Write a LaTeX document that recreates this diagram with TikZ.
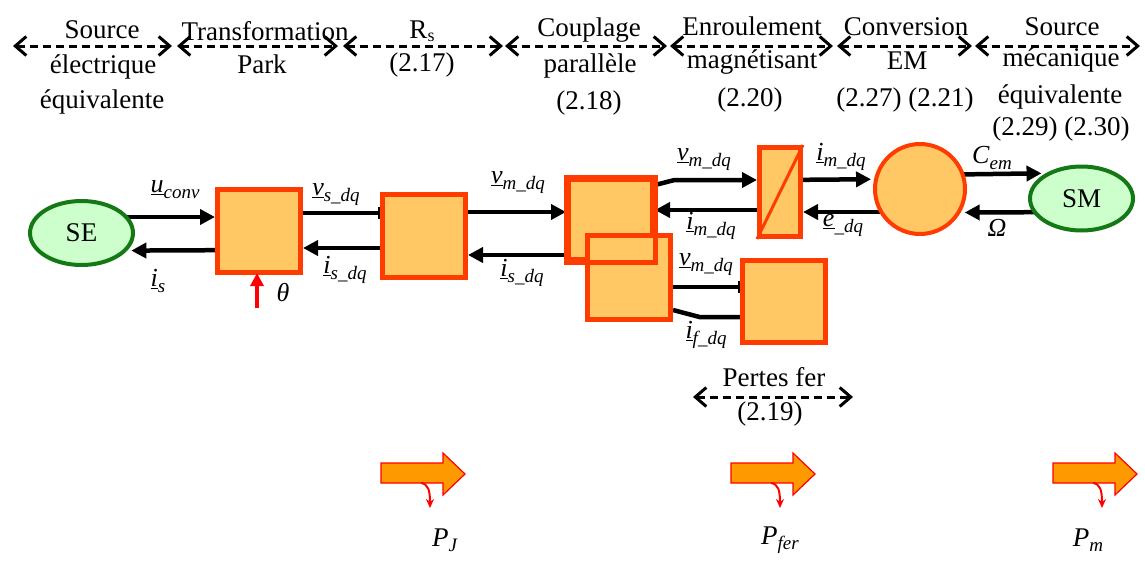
\documentclass[tikz,border=0pt]{standalone}
\usepackage{fontspec}
\setmainfont{Liberation Serif}
\usetikzlibrary{arrows.meta,calc,backgrounds,shapes.geometric}
\definecolor{blk}{RGB}{255,200,100}
\definecolor{brd}{RGB}{255,60,0}
\definecolor{grn}{RGB}{20,120,20}
\definecolor{lgrn}{RGB}{204,255,204}
\definecolor{pow}{RGB}{255,153,0}
\newcommand\sgl[2]{\underline{\textit{#1}}\raisebox{-6pt}{\fontsize{19}{19}\selectfont\textit{#2}}}
\newcommand\powarrow[3]{%
  \begin{scope}[shift={(#1,#2)}]
    \draw[parr] (0,0) -- (62,0) -- (62,-10) -- (84,11) -- (62,32) -- (62,20) -- (0,20) -- cycle;
    \draw[red, line width=2pt, -{Stealth[length=9pt,width=8pt]}] (40,20) .. controls (47,21) and (49,27) .. (49,45);
  \end{scope}}
\begin{document}
\begin{tikzpicture}[x=1pt,y=-1pt,
  block/.style={draw=brd, fill=blk, line width=5pt, minimum width=83pt, minimum height=83pt, inner sep=0pt},
  src/.style={ellipse, draw=grn, fill=lgrn, line width=4pt, minimum width=103pt, minimum height=64pt, inner sep=0pt, font=\fontsize{27}{27}\selectfont},
  sig/.style={line width=4.5pt, -{Triangle[length=15pt,width=15pt]}},
  sigbar/.style={line width=4.5pt, -{Bar[width=12pt,line width=2.5pt]}},
  plain/.style={line width=4.5pt},
  span/.style={line width=3pt, dash pattern=on 8pt off 5pt,
     {Straight Barb[length=11pt,width=19pt,line width=3pt]}-{Straight Barb[length=11pt,width=19pt,line width=3pt]}},
  toptxt/.style={anchor=base, inner sep=0pt, font=\fontsize{27}{27}\selectfont},
  lab/.style={inner sep=0pt, font=\fontsize{26}{26}\selectfont},
  parr/.style={draw=red, fill=pow, line width=1.2pt, line join=miter},
]
\useasboundingbox (0,0) rectangle (1145,573);

% ---- top spans ----
\draw[span] (13,46) -- (172,46);
\draw[span] (177,46) -- (338,46);
\draw[span] (343,46) -- (503,46);
\draw[span] (505,46) -- (667,46);
\draw[span] (670,46) -- (833,46);
\draw[span] (837,46) -- (972,46);
\draw[span] (975,46) -- (1140,46);
\draw[span] (693,397) -- (853,397);

\node[toptxt] (t1a) at (102,38) {Source};
\node[toptxt] (t1b) at (103,73) {électrique};
\node[toptxt] (t1c) at (102,108) {équivalente};
\node[toptxt] (t2a) at (265,40) {Transformation};
\node[toptxt] (t2b) at (262,73) {Park};
\node[toptxt] (t3a) at (422,38) {R\raisebox{-3pt}{\fontsize{18}{18}\selectfont s}};
\node[toptxt] (t3b) at (422,71) {(2.17)};
\node[toptxt] (t4a) at (589,36) {Couplage};
\node[toptxt] (t4b) at (590,72) {parallèle};
\node[toptxt] (t4c) at (589,109) {(2.18)};
\node[toptxt] (t5a) at (752,35) {Enroulement};
\node[toptxt] (t5b) at (752,68) {magnétisant};
\node[toptxt] (t5c) at (750,106) {(2.20)};
\node[toptxt] (t6a) at (906,35) {Conversion};
\node[toptxt] (t6b) at (907,69) {EM};
\node[toptxt] (t6c) at (905,106) {(2.27) (2.21)};
\node[toptxt] (t7a) at (1062,35) {Source};
\node[toptxt] (t7b) at (1061,66) {mécanique};
\node[toptxt] (t7c) at (1060,103) {équivalente};
\node[toptxt] (t7d) at (1061,135) {(2.29) (2.30)};
\node[toptxt] (pfa) at (774,386) {Pertes fer};
\node[toptxt] (pfb) at (770,420) {(2.19)};

% ---- blocks ----
\node[src] (se) at (81.5,233) {SE};
\node[block] (b1) at (259,231) {};
\node[block] (b2) at (424,235.5) {};
\node[block, minimum width=84pt, minimum height=80pt] (b3) at (610.5,219.5) {};
\node[block, minimum height=84pt] (b4) at (629,277.5) {};
\draw[brd, line width=5pt] (b3.south west) rectangle (b3.north east);
\node[block, minimum width=41pt, minimum height=89pt] (b5) at (780,192) {};
\draw[brd, line width=3pt] (b5.south west) -- (b5.north east);
\node[block, minimum height=82pt] (b6) at (784,301.5) {};
\node[circle, draw=brd, fill=blk, line width=4pt, minimum size=90pt, inner sep=0pt] (circ) at (920,189) {};
\node[src] (sm) at (1081.5,198.5) {SM};

% ---- connectors ----
\begin{scope}[on background layer]
\draw[sig] ($(se)+(0,-16)$) -- ($(b1.west)+(0,-14)$);
\draw[sig] ($(b1)+(0,19)$) -- ($(se.-21)+(4,0)$);
\draw[sigbar] ($(b1)+(0,-18)$) -- ($(b2.west)+(0,-22.5)$);
\draw[sig] ($(b2)+(0,12.5)$) -- ($(b1.east)+(0,17)$);
\draw[sig] ($(b2)+(0,-23.5)$) -- ($(b3.west)+(0,-7.5)$);
\draw[sig] ($(b3)+(0,35.5)$) -- ($(b2.east)+(0,19.5)$);
\draw[sig] ($(b3.east)+(0,-34.5)$) -- ($(b3.east)+(19.5,-39.5)$) -- ($(b5.west)+(0,-12)$);
\draw[sig] ($(b5)+(0,18)$) -- ($(b3.east)+(0,-9.5)$);
\draw[sigbar] ($(b4)+(0,9.5)$) -- ($(b6.west)+(0,-14.5)$);
\draw[plain] ($(b6)+(0,15.5)$) -- ($(b6.west)+(-40.5,15.5)$) -- ($(b4.east)+(0,32.5)$);
\draw[sig] ($(b5)+(0,-12)$) -- ($(circ.168.5)+(-3,0)$);
\draw[sig] ($(circ)+(0,23)$) -- ($(b5.east)+(0,20)$);
\draw[sig] ($(circ)+(0,-14)$) -- ($(sm.145.6)+(-4,0)$);
\draw[sig] ($(sm)+(0,13.5)$) -- ($(circ.-30.7)+(4,0)$);
\end{scope}
\draw[red, line width=4pt, -{Triangle[length=13pt,width=13pt]}] ($(b1.south)+(-2,33)$) -- ($(b1.south)+(-2,-2)$);

% ---- signal labels ----
\node[lab] (lu) at (175,190) {\sgl{u}{conv}};
\node[lab] (lis) at (158,281) {\sgl{i}{s}};
\node[lab] (lvs) at (336,195) {\sgl{v}{s\_dq}};
\node[lab] (lisdq1) at (345,270) {\sgl{i}{s\_dq}};
\node[lab] (lvm1) at (518,183) {\sgl{v}{m\_dq}};
\node[lab] (lisdq2) at (522,273) {\sgl{i}{s\_dq}};
\node[lab] (lvm2) at (704,160) {\sgl{v}{m\_dq}};
\node[lab] (lim1) at (711,226) {\sgl{i}{m\_dq}};
\node[lab] (lvm3) at (706,265) {\sgl{v}{m\_dq}};
\node[lab] (lif) at (706,335) {\sgl{i}{f\_dq}};
\node[lab] (lim2) at (841,157) {\sgl{i}{m\_dq}};
\node[lab] (le) at (843,225) {\sgl{e}{\_dq}};
\node[lab] (lc) at (992,158) {\textit{C}\raisebox{-6pt}{\fontsize{19}{19}\selectfont\textit{em}}};
\node[lab] (lom) at (997,228) {\textit{Ω}};
\node[lab] (lth) at (283,293) {\textit{θ}};

% ---- power arrows ----
\powarrow{381}{463}{}
\powarrow{731}{463}{}
\powarrow{1053}{463}{}
\node[lab, font=\fontsize{27}{27}\selectfont] (pj) at (445,540) {\textit{P}\raisebox{-5pt}{\fontsize{19}{19}\selectfont\textit{J}}};
\node[lab, font=\fontsize{27}{27}\selectfont] (pfer) at (780,540) {\textit{P}\raisebox{-5pt}{\fontsize{19}{19}\selectfont\textit{fer}}};
\node[lab, font=\fontsize{27}{27}\selectfont] (pm) at (1088,540) {\textit{P}\raisebox{-5pt}{\fontsize{19}{19}\selectfont\textit{m}}};
\end{tikzpicture}
\end{document}
